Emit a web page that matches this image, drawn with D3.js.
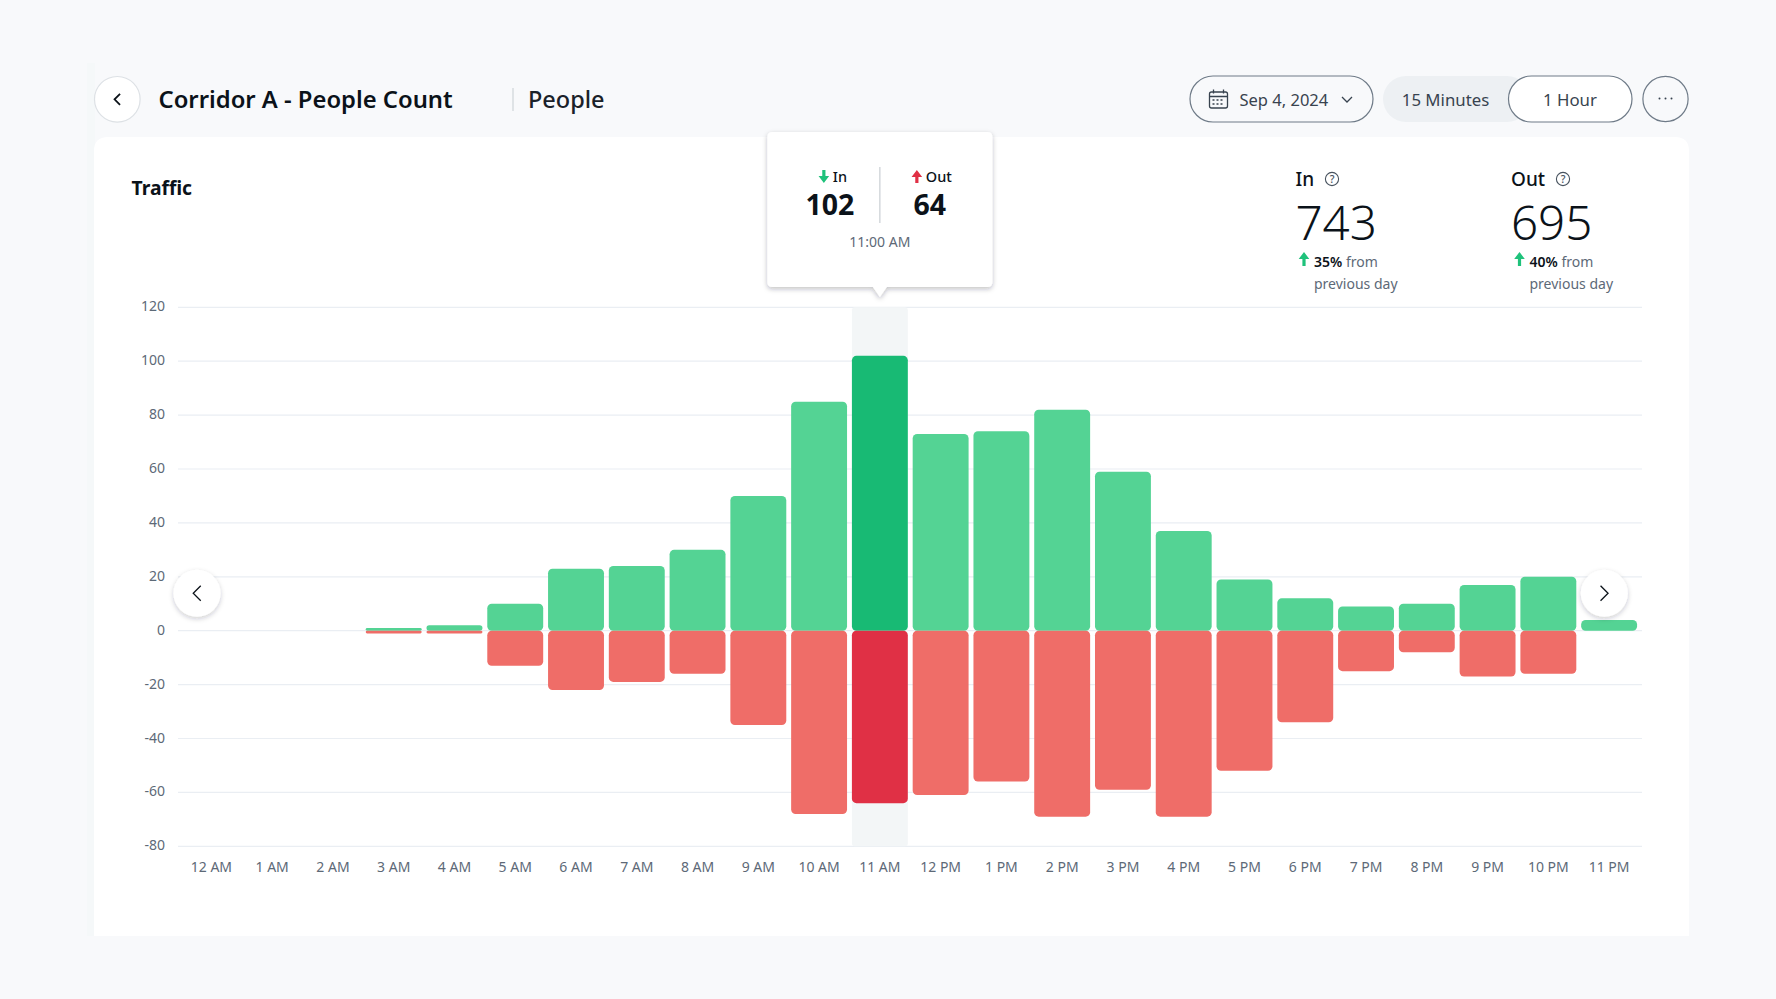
<!DOCTYPE html>
<html>
<head>
<meta charset="utf-8">
<script src="https://cdn.jsdelivr.net/npm/d3@7"></script>
<style>
  html, body { margin: 0; padding: 0; background: #f8f9fb; overflow: hidden; }
  svg { display: block; font-family: "Noto Sans", "Open Sans", sans-serif; }
</style>
</head>
<body>
<svg id="chart" width="1776" height="999"></svg>
<script>
const hours = ['12 AM','1 AM','2 AM','3 AM','4 AM','5 AM','6 AM','7 AM','8 AM','9 AM','10 AM','11 AM',
  '12 PM','1 PM','2 PM','3 PM','4 PM','5 PM','6 PM','7 PM','8 PM','9 PM','10 PM','11 PM'];
const inValues = [0,0,0,1,2,10,23,24,30,50,85,102,73,74,82,59,37,19,12,9,10,17,20,4];
const outValues = [0,0,0,1,1,13,22,19,16,35,68,64,61,56,69,59,69,52,34,15,8,17,16,0];
const yTicks = [120,100,80,60,40,20,0,-20,-40,-60,-80];
const activeHour = '11 AM';

const INK = '#0b1219', GREY = '#5d6977', LINE = '#6f7b88';
const svg = d3.select('#chart');

// shadows
const defs = svg.append('defs');
function shadow(id, dy, blur, op) {
  const f = defs.append('filter').attr('id', id)
    .attr('x', '-30%').attr('y', '-30%').attr('width', '160%').attr('height', '160%');
  f.append('feDropShadow').attr('dx', 0).attr('dy', dy)
    .attr('stdDeviation', blur).attr('flood-color', '#1c2733').attr('flood-opacity', op);
}
shadow('tipShadow', 2, 2.5, 0.28);
shadow('navShadow', 2, 2.5, 0.22);

// faint band left of the card + card (square bottom corners)
svg.append('rect').attr('x', 87).attr('y', 63).attr('width', 8).attr('height', 873).attr('fill', '#f5f8f9');
svg.append('path').attr('d', 'M94,936 V151 Q94,137 108,137 H1675 Q1689,137 1689,151 V936 Z').attr('fill', '#fff');

// scales
const margin = { left: 178, right: 1642 };
const x = d3.scaleBand().domain(hours).range([181, 1639.5]).paddingInner(0.08).paddingOuter(0.04);
const y = d3.scaleLinear().domain([-80, 120]).range([846.3, 307.3]);

// y axis + grid
const yAxis = svg.append('g').attr('transform', `translate(${margin.left},0)`)
  .call(d3.axisLeft(y).tickValues(yTicks).tickSize(0).tickPadding(13).tickFormat(String));
yAxis.attr('font-family', null).select('.domain').remove();
yAxis.selectAll('text').attr('fill', GREY).attr('dy', '0.25em').style('font-size', '14px');
svg.append('g').selectAll('line').data(yTicks).join('line')
  .attr('x1', margin.left).attr('x2', margin.right)
  .attr('y1', d => y(d)).attr('y2', d => y(d))
  .attr('stroke', '#eaeef3').attr('stroke-width', 1.2);

// x axis
const xAxis = svg.append('g').attr('transform', `translate(0,${y(-80)})`)
  .call(d3.axisBottom(x).tickSize(0).tickPadding(15.5));
xAxis.attr('font-family', null).select('.domain').remove();
xAxis.selectAll('text').attr('fill', GREY).style('font-size', '14px');

// highlighted hour band
svg.append('rect')
  .attr('x', x(activeHour)).attr('y', y(120)).attr('width', x.bandwidth())
  .attr('height', y(-80) - y(120)).attr('rx', 3).attr('fill', '#f3f6f7');

// bars, in goes up from zero and out goes down
const bars = svg.append('g');
function drawBars(values, sign, color, activeColor) {
  bars.append('g').selectAll('rect')
    .data(hours.map((h, i) => ({ h, v: values[i] })).filter(d => d.v > 0))
    .join('rect')
    .attr('x', d => x(d.h))
    .attr('width', x.bandwidth())
    .attr('y', d => sign > 0 ? y(d.v) : y(0))
    .attr('height', d => Math.abs(y(d.v) - y(0)))
    .attr('rx', d => Math.min(4.5, Math.abs(y(d.v) - y(0)) / 2))
    .attr('fill', d => d.h === activeHour ? activeColor : color);
}
drawBars(inValues, 1, '#54d394', '#18ba74');
drawBars(outValues, -1, '#ef6d68', '#e03045');

// helpers
function text(sel, str, px, py, size, weight, fill, anchor) {
  return sel.append('text').attr('x', px).attr('y', py).text(str)
    .style('font-size', size + 'px').style('font-weight', weight)
    .attr('fill', fill).attr('text-anchor', anchor || 'start');
}
function pill(sel, x0, x1, cy, h, fill, stroke) {
  return sel.append('rect').attr('x', x0).attr('y', cy - h / 2).attr('width', x1 - x0).attr('height', h)
    .attr('rx', h / 2).attr('fill', fill).attr('stroke', stroke || 'none').attr('stroke-width', 1.2);
}
function chevron(sel, cx, cy, dir, size, color, width) {
  sel.append('path')
    .attr('d', `M${cx - dir * size / 2},${cy - size} L${cx + dir * size / 2},${cy} L${cx - dir * size / 2},${cy + size}`)
    .attr('fill', 'none').attr('stroke', color).attr('stroke-width', width || 1.5);
}
function arrow(sel, cx, y0, y1, color) {
  // points from y0 (tail) to y1 (head)
  const d = y1 > y0 ? 1 : -1, hw = 5.3, hl = 7, st = 1.6;
  sel.append('path')
    .attr('d', `M${cx},${y1} L${cx + hw},${y1 - d * hl} L${cx + st},${y1 - d * hl} L${cx + st},${y0} L${cx - st},${y0} L${cx - st},${y1 - d * hl} L${cx - hw},${y1 - d * hl} Z`)
    .attr('fill', color);
}
function helpIcon(sel, cx, cy) {
  sel.append('circle').attr('cx', cx).attr('cy', cy).attr('r', 6.6)
    .attr('fill', 'none').attr('stroke', '#47525e').attr('stroke-width', 1.1);
  text(sel, '?', cx, cy + 3.8, 10.5, 500, '#47525e', 'middle');
}

// nav buttons on the chart
const nav = svg.append('g');
[[197, -1], [1604.3, 1]].forEach(([cx, dir]) => {
  nav.append('circle').attr('cx', cx).attr('cy', 593.3).attr('r', 23.5)
    .attr('fill', '#fff').attr('filter', 'url(#navShadow)');
  chevron(nav, cx, 593.3, dir, 7.5, INK, 1.3);
});

// header
const head = svg.append('g');
head.append('circle').attr('cx', 117.3).attr('cy', 99.3).attr('r', 22.8)
  .attr('fill', '#fff').attr('stroke', '#dde1e5').attr('stroke-width', 1.2);
chevron(head, 117.3, 99.3, -1, 5.5, INK, 1.8);
text(head, 'Corridor A - People Count', 158.5, 108, 23.8, 600, INK);
head.append('line').attr('x1', 513).attr('x2', 513).attr('y1', 88).attr('y2', 111)
  .attr('stroke', '#cfd4d9').attr('stroke-width', 1.2);
text(head, 'People', 528, 108, 23.5, 500, '#1a2129');

pill(head, 1190, 1373, 99, 46, 'none', LINE);
const cal = head.append('g').attr('fill', 'none').attr('stroke', '#38434f').attr('stroke-width', 1.3);
cal.append('rect').attr('x', 1209.5).attr('y', 92).attr('width', 18).attr('height', 16).attr('rx', 2);
cal.append('path').attr('d', 'M1209.5,96.5 H1227.5 M1213.5,89.5 V93.5 M1223.5,89.5 V93.5');
cal.append('path').attr('d', 'M1212.5,100 H1224.5 M1212.5,104 H1224.5').attr('stroke-dasharray', '2 2');
text(head, 'Sep 4, 2024', 1239.5, 105.5, 16.5, 400, '#38434f');
head.append('path').attr('d', 'M1342,97 L1347,102 L1352,97').attr('fill', 'none')
  .attr('stroke', '#38434f').attr('stroke-width', 1.3);

pill(head, 1383, 1530, 99, 46, '#edf0f3');
text(head, '15 Minutes', 1445.5, 105.5, 16.8, 400, '#38434f', 'middle');
pill(head, 1508.5, 1632, 99, 46, '#fff', LINE);
text(head, '1 Hour', 1570, 105.5, 16.8, 400, '#38434f', 'middle');
head.append('circle').attr('cx', 1665.5).attr('cy', 99).attr('r', 22.6)
  .attr('fill', 'none').attr('stroke', LINE).attr('stroke-width', 1.2);
[-6, 0, 6].forEach(d => head.append('circle').attr('cx', 1665.5 + d).attr('cy', 98.5).attr('r', 1).attr('fill', '#38434f'));

text(svg, 'Traffic', 131.5, 195, 19.3, 700, INK);

// summary blocks
const blocks = [
  { label: 'In', total: '743', pct: '35%', x: 1295.5, help: 1332 },
  { label: 'Out', total: '695', pct: '40%', x: 1511, help: 1563 }
];
blocks.forEach(b => {
  const g = svg.append('g');
  text(g, b.label, b.x, 186, 19, 500, INK);
  helpIcon(g, b.help, 179);
  text(g, b.total, b.x, 239.5, 47.5, 350, INK);
  arrow(g, b.x + 8.5, 266, 252, '#1fc27b');
  const line = text(g, '', b.x + 18.5, 267, 14, 400, GREY);
  line.append('tspan').text(b.pct).attr('fill', INK).style('font-weight', 600);
  line.append('tspan').text(' from');
  text(g, 'previous day', b.x + 18.5, 289, 14, 400, GREY);
});

// tooltip
const tip = svg.append('g');
const tipX = x(activeHour) + x.bandwidth() / 2;
tip.append('path')
  .attr('d', `M${tipX - 112.5 + 5},132 H${tipX + 112.5 - 5} Q${tipX + 112.5},132 ${tipX + 112.5},137 V282 Q${tipX + 112.5},287 ${tipX + 112.5 - 5},287 H${tipX + 7} L${tipX},297 L${tipX - 7},287 H${tipX - 112.5 + 5} Q${tipX - 112.5},287 ${tipX - 112.5},282 V137 Q${tipX - 112.5},132 ${tipX - 112.5 + 5},132 Z`)
  .attr('fill', '#fff').attr('filter', 'url(#tipShadow)');
tip.append('line').attr('x1', tipX).attr('x2', tipX).attr('y1', 167).attr('y2', 223)
  .attr('stroke', '#c9ced3').attr('stroke-width', 1.2);
arrow(tip, tipX - 56, 170, 183, '#1fc27b');
text(tip, 'In', tipX - 47, 182, 14.5, 500, INK);
arrow(tip, tipX + 37, 183, 170, '#e03045');
text(tip, 'Out', tipX + 46, 182, 14.5, 500, INK);
text(tip, String(inValues[hours.indexOf(activeHour)]), tipX - 50, 215, 28.5, 700, INK, 'middle');
text(tip, String(outValues[hours.indexOf(activeHour)]), tipX + 50, 215, 28.5, 700, INK, 'middle');
text(tip, '11:00 AM', tipX, 247, 14, 400, GREY, 'middle');
</script>
</body>
</html>
